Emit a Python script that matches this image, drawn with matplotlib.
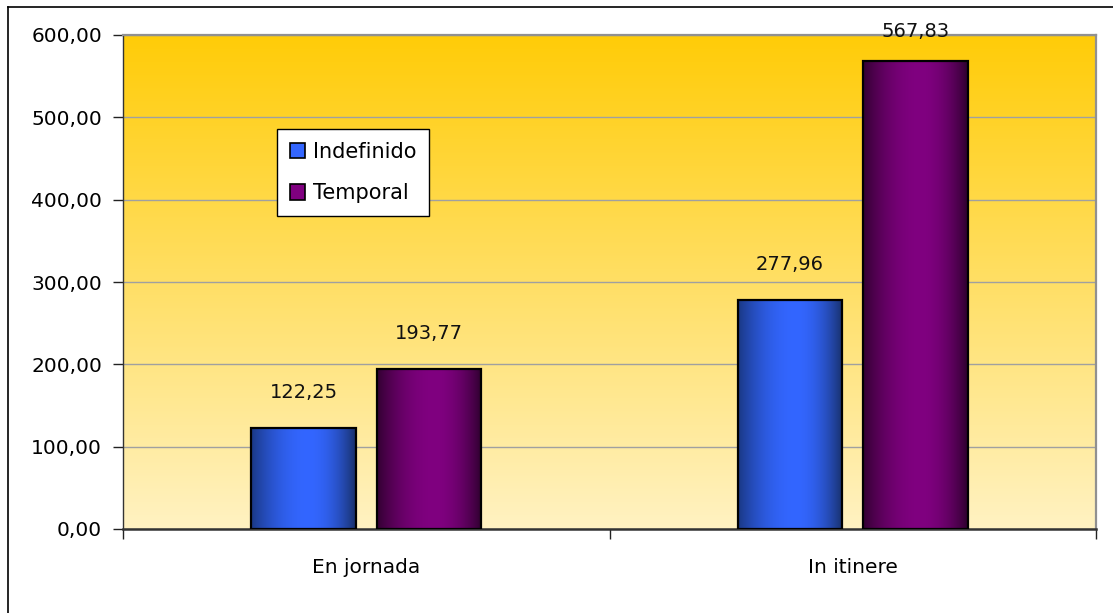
import numpy as np
import matplotlib
matplotlib.use("Agg")
import matplotlib.pyplot as plt
from matplotlib.patches import Rectangle, Patch
from matplotlib.lines import Line2D
from matplotlib.colors import to_rgb
from matplotlib.ticker import FuncFormatter, FixedLocator

categories = ["En jornada", "In itinere"]
series_names = ["Indefinido", "Temporal"]
indefinido = [122.25, 277.96]
temporal = [193.77, 567.83]
y_ticks = [0, 100, 200, 300, 400, 500, 600]

W, H = 1113, 613
fig = plt.figure(figsize=(W / 100, H / 100), dpi=100)
fig.patch.set_facecolor("white")
ax = fig.add_axes([123 / W, 1 - 529 / H, (1096 - 123) / W, (529 - 35) / H])

# outer frame
fig.add_artist(Line2D([8 / W, 1.0], [1 - 7 / H, 1 - 7 / H], color="black", lw=1.2, transform=fig.transFigure))
fig.add_artist(Line2D([8 / W, 8 / W], [0, 1 - 7 / H], color="black", lw=1.2, transform=fig.transFigure))

ymin, ymax = 0, 600
xmin, xmax = -0.5, 1.5

# background gradient
top = np.array(to_rgb("#FFCC08"))
bot = np.array(to_rgb("#FFF2C2"))
tt = np.linspace(0, 1, 256)[:, None]
grad = (top * (1 - tt) + bot * tt)[:, None, :].repeat(2, axis=1)
ax.imshow(grad, extent=(xmin, xmax, ymin, ymax), aspect="auto", origin="upper", zorder=0)

ax.set_yticks(y_ticks)
ax.yaxis.grid(True, color="#A0A0A0", lw=1.0, zorder=1)
ax.set_axisbelow(True)

def bar_grad(dark_l, bright, dark_r, n=200, peak=0.55):
    dl, b, dr = (np.array(to_rgb(c)) for c in (dark_l, bright, dark_r))
    t = np.linspace(0, 1, n)
    cols = []
    for v in t:
        if v <= peak:
            f = 1 - ((peak - v) / peak) ** 2
            cols.append(dl * (1 - f) + b * f)
        else:
            f = 1 - ((v - peak) / (1 - peak)) ** 2
            cols.append(dr * (1 - f) + b * f)
    return np.array(cols)[None, :, :]

grads = [bar_grad("#1A3884", "#3366FF", "#18306A"),
         bar_grad("#330032", "#800080", "#2E002E")]
legend_colors = ["#3366FF", "#800080"]

width = 0.214
offsets = [-0.129, 0.129]
px_per_unit = (529 - 35) / (ymax - ymin)
x = np.arange(len(categories))
for si, vals in enumerate([indefinido, temporal]):
    for xi, v in zip(x, vals):
        x0 = xi + offsets[si] - width / 2
        ax.imshow(grads[si], extent=(x0, x0 + width, 0, v), aspect="auto", zorder=2)
        ax.add_patch(Rectangle((x0, 0), width, v, fill=False, ec="black", lw=1.6, zorder=3))
        # label sits ~36 px above the bar, kept just under the plot top
        off_px = min(36, (ymax - v) * px_per_unit + 3)
        ax.annotate(f"{v:.2f}".replace(".", ","), (xi + offsets[si], v), xytext=(0, off_px * 0.72),
                    textcoords="offset points", ha="center", va="center", fontsize=14,
                    color="#111111", zorder=5, annotation_clip=False)

ax.set_xlim(xmin, xmax)
ax.set_ylim(ymin, ymax)

ax.yaxis.set_major_formatter(FuncFormatter(lambda v, p: f"{v:.2f}".replace(".", ",")))
ax.tick_params(axis="y", direction="out", length=7, width=1, color="#222222", labelsize=14.5, pad=8)

ax.xaxis.set_major_locator(FixedLocator(x))
ax.set_xticklabels(categories)
ax.xaxis.set_minor_locator(FixedLocator([-0.5, 0.5, 1.5]))
ax.tick_params(axis="x", which="major", length=0, labelsize=14.5, pad=21)
ax.tick_params(axis="x", which="minor", direction="out", length=7, width=1, color="#222222")

for s in ["top", "right"]:
    ax.spines[s].set_color("#909090")
    ax.spines[s].set_linewidth(1.6)
ax.spines["left"].set_color("#333333")
ax.spines["left"].set_linewidth(1.0)
ax.spines["bottom"].set_color("#333333")
ax.spines["bottom"].set_linewidth(1.8)

handles = [Patch(facecolor=c, edgecolor="black", lw=1.2) for c in legend_colors]
leg = fig.legend(handles, series_names, loc="upper left",
                 bbox_to_anchor=(277 / W, 1 - 129 / H), bbox_transform=fig.transFigure,
                 fontsize=15, handlelength=0.75, handleheight=0.75, handletextpad=0.4,
                 labelspacing=1.05, borderpad=0.6, borderaxespad=0, fancybox=False,
                 frameon=True, framealpha=1)
leg.get_frame().set_edgecolor("black")
leg.get_frame().set_linewidth(1.0)
leg.get_frame().set_facecolor("white")

fig.savefig("out.png", dpi=100)
